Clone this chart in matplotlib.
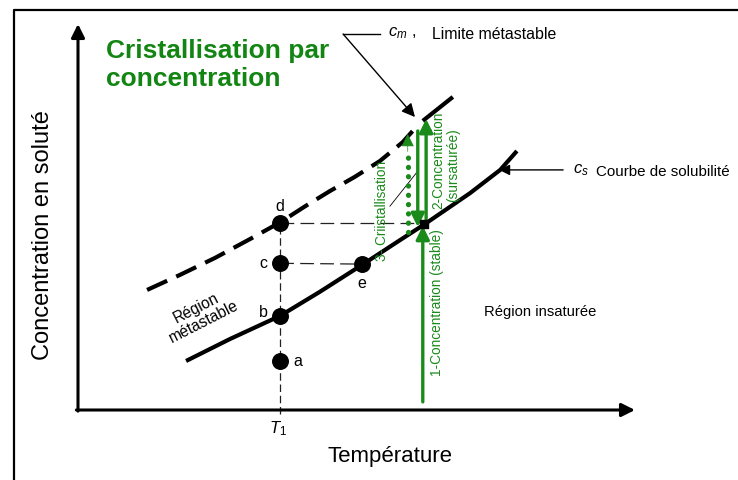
import matplotlib
matplotlib.use('Agg')
import matplotlib.pyplot as plt

plt.rcParams['font.family'] = ['Liberation Sans', 'DejaVu Sans']
plt.rcParams['mathtext.fontset'] = 'custom'
plt.rcParams['mathtext.it'] = 'Liberation Sans:italic'
plt.rcParams['mathtext.rm'] = 'Liberation Sans'

# --- diagram data (temperature units on x, concentration units on y) ---
# solubility curve c_s
sol_t = [1.94, 2.73, 3.63, 4.34, 5.10, 5.78, 6.23, 7.04, 7.58, 7.88]
sol_c = [1.27, 1.84, 2.44, 3.06, 3.76, 4.40, 4.82, 5.62, 6.22, 6.71]
# metastable limit c_m (dashed part, then short solid part above the arrow)
meta_t = [1.24, 1.83, 2.46, 3.09, 3.64, 4.08, 4.52, 4.97, 5.42, 5.83, 6.09]
meta_c = [3.11, 3.50, 3.94, 4.43, 4.87, 5.28, 5.67, 6.04, 6.45, 6.94, 7.36]
meta_top_t = [6.19, 6.73]
meta_top_c = [7.49, 8.11]

# points at T1 and on the solubility curve
T1 = 3.63
pt_names = ['a', 'b', 'c', 'd', 'e']
pt_t = [T1, T1, T1, T1, 5.10]
pt_c = [1.27, 2.44, 3.80, 4.85, 3.78]
# concentration process
T2 = 6.21
c_sat = 4.82

# green process arrows: (x, start, end)
arrow_stable = (6.19, 0.21, 4.77)
arrow_super = (6.25, 4.87, 7.54)
arrow_down = (6.10, 7.23, 4.74)
arrow_cryst = (5.92, 4.61, 7.15)

GREEN = '#1a8a1a'
TITLE_GREEN = '#128512'

# layout: 1 unit = 55.7 px in x, 38.6 px in y, origin at pixel (78, 411)
W, H = 738, 481
sx, sy, ox, oy = 55.7, 38.6, 78, 411

fig = plt.figure(figsize=(W / 100, H / 100), dpi=100)
ax = fig.add_axes([0, 0, 1, 1])
ax.set_xlim(-ox / sx, (W - ox) / sx)
ax.set_ylim(-(H - oy) / sy, oy / sy)
ax.axis('off')

# frame of the picture
ax.plot([-1.15, -1.15, 12], [-2, 10.36, 10.36], color='black', lw=1.6, clip_on=False,
        solid_capstyle='projecting')

# axes with arrows
ax.annotate('', xy=(10.0, 0), xytext=(-0.03, 0),
            arrowprops=dict(arrowstyle='-|>', color='black', lw=2.2, mutation_scale=20,
                            shrinkA=0, shrinkB=0))
ax.annotate('', xy=(0, 10.0), xytext=(0, -0.03),
            arrowprops=dict(arrowstyle='-|>', color='black', lw=2.2, mutation_scale=20,
                            shrinkA=0, shrinkB=0))

# curves
ax.plot(sol_t, sol_c, color='black', lw=3, solid_capstyle='butt')
ax.plot(meta_t, meta_c, color='black', lw=3, dashes=(5.3, 2.4), solid_capstyle='butt',
        dash_capstyle='butt')
ax.plot(meta_top_t, meta_top_c, color='black', lw=3, solid_capstyle='butt')

# construction lines
ax.plot([T1, T1], [-0.1, pt_c[3]], color='#222222', lw=0.9, dashes=(6, 3))
ax.plot([T1, arrow_down[0]], [pt_c[3], pt_c[3]], color='#222222', lw=0.9, dashes=(11, 5))
ax.plot([T1, pt_t[4]], [pt_c[2], pt_c[4]], color='#222222', lw=0.9, dashes=(11, 5))

# points
ax.scatter(pt_t, pt_c, s=125, color='black', zorder=5)
ax.scatter([T2], [c_sat], s=30, color='black', marker='s', zorder=6)
lbl_off = {'a': (0.31, 0.0), 'b': (-0.30, 0.12), 'c': (-0.31, 0.03),
           'd': (0.0, 0.44), 'e': (0.0, -0.48)}
for n, t, c in zip(pt_names, pt_t, pt_c):
    dx, dy = lbl_off[n]
    ax.text(t + dx, c + dy, n, fontsize=11.5, ha='center', va='center')

# green arrows
def g_arrow(x, y0, y1, lw=2.4):
    ax.annotate('', xy=(x, y1), xytext=(x, y0),
                arrowprops=dict(arrowstyle='-|>', color=GREEN, lw=lw, mutation_scale=20,
                                shrinkA=0, shrinkB=0), zorder=4)

g_arrow(*arrow_stable)
g_arrow(*arrow_super)
g_arrow(*arrow_down)
x3, y3a, y3b = arrow_cryst
ax.plot([x3, x3], [y3a, y3b - 0.4], color=GREEN, lw=3.8, dashes=(0.01, 1.75),
        dash_capstyle='round', zorder=4)
g_arrow(x3, y3b - 0.45, y3b, lw=0.5)

# green labels
ax.text(6.45, 2.82, '1-Concentration (stable)', rotation=90, color=GREEN, fontsize=9.8,
        ha='center', va='center')
ax.text(6.47, 6.50, '2-Concentration', rotation=90, color=GREEN, fontsize=9.8,
        ha='center', va='center')
ax.text(6.73, 6.37, '(sursaturée)', rotation=90, color=GREEN, fontsize=9.8,
        ha='center', va='center')
ax.text(5.46, 5.18, '3- Criistallisation', rotation=90, color=GREEN, fontsize=9.8,
        ha='center', va='center')
ax.plot([5.60, 6.09], [5.28, 6.17], color='black', lw=0.6)

# title
ax.text(0.50, 8.97, 'Cristallisation par\nconcentration', color=TITLE_GREEN, fontsize=19,
        fontweight='bold', ha='left', va='center', linespacing=1.22)

# c_m annotation
ax.plot([4.76, 5.42], [9.74, 9.74], color='black', lw=1)
ax.annotate('', xy=(6.05, 7.59), xytext=(4.76, 9.74),
            arrowprops=dict(arrowstyle='-|>', color='black', lw=1, mutation_scale=20,
                            shrinkA=0, shrinkB=0))
ax.text(5.57, 9.78, r'$c_m$ ,', fontsize=12, ha='left', va='center')
ax.text(6.36, 9.76, 'Limite métastable', fontsize=11.4, ha='left', va='center')

# c_s annotation
ax.annotate('', xy=(7.56, 6.22), xytext=(8.71, 6.22),
            arrowprops=dict(arrowstyle='-|>', color='black', lw=1, mutation_scale=16,
                            shrinkA=0, shrinkB=0))
ax.text(8.89, 6.24, r'$c_s$', fontsize=12, ha='left', va='center')
ax.text(9.30, 6.19, 'Courbe de solubilité', fontsize=10.9, ha='left', va='center')

# regions
ax.text(7.29, 2.56, 'Région insaturée', fontsize=10.6, ha='left', va='center')
ax.text(2.19, 2.49, 'Région\nmétastable', fontsize=11.2, ha='center', va='center',
        rotation=27, linespacing=1.1)

# axis labels
ax.text(3.59, -0.46, r'$T_1$', fontsize=12, ha='center', va='center')
ax.text(5.60, -1.17, 'Température', fontsize=16, ha='center', va='center')
ax.text(-0.63, 4.56, 'Concentration en soluté', fontsize=17, rotation=90,
        ha='center', va='center')

fig.savefig('out.png', dpi=100)
